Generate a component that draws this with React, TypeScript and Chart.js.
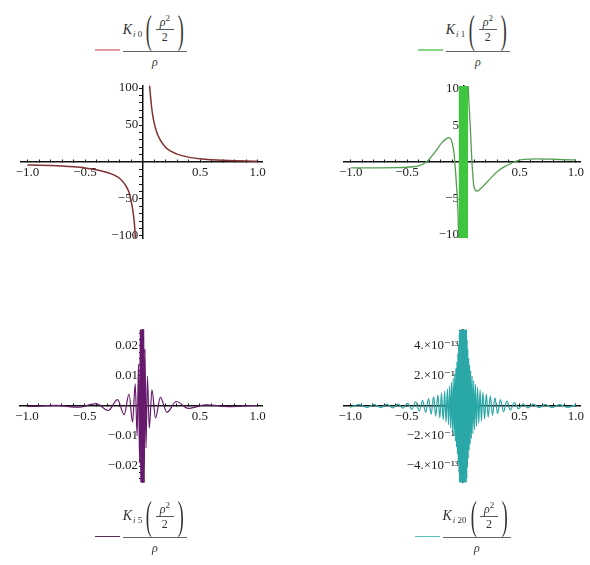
import React, { useEffect, useRef } from "react";
import { Chart, registerables } from "chart.js";

Chart.register(...registerables);

const SERIF = '"Liberation Serif", "DejaVu Serif", serif';
const GAP = "\u2004";

// ---------- shared x axis ----------
const xTickValues = [-1, -0.5, 0.5, 1];
const xTickLabels = ["\u22121.0", "\u22120.5", "0.5", "1.0"];

// ---------- legend orders ----------
const legendOrders = ["0", "1", "5", "20"];

// ---------- panel 1 : K_{i0}(rho^2/2)/rho ----------
const k0YTickValues = [-100, -50, 50, 100];
const k0YTickLabels = ["\u2212100", "\u221250", "50", "100"];
const k0Left: [number, number][] = [
  [-1.0, -4], [-0.9, -4.3], [-0.8, -4.8], [-0.7, -5.5], [-0.6, -6.5], [-0.5, -8],
  [-0.4, -10.5], [-0.3, -14.5], [-0.25, -17.5], [-0.2, -22], [-0.15, -31], [-0.12, -40],
  [-0.1, -52], [-0.09, -60], [-0.08, -70], [-0.07, -84], [-0.063, -100], [-0.06, -108],
];
const k0Right: [number, number][] = [
  [0.06, 108], [0.065, 97], [0.07, 88], [0.08, 73], [0.09, 62], [0.1, 54], [0.12, 42],
  [0.15, 31], [0.2, 20], [0.25, 14.3], [0.3, 10.7], [0.4, 6.6], [0.5, 4.4], [0.6, 3.1],
  [0.7, 2.2], [0.8, 1.6], [0.9, 1.2], [1.0, 0.9],
];

// ---------- panel 2 : K_{i1}(rho^2/2)/rho ----------
const k1YTickValues = [-10, -5, 5, 10];
const k1YTickLabels = ["\u221210", "\u22125", "5", "10"];
const k1Left: [number, number][] = [
  [-1.0, -0.8], [-0.8, -0.8], [-0.6, -0.78], [-0.5, -0.72], [-0.45, -0.65], [-0.39, -0.5],
  [-0.33, -0.05], [-0.28, 0.8], [-0.245, 1.5], [-0.19, 2.65], [-0.15, 3.2], [-0.13, 3.33],
  [-0.115, 3.2], [-0.104, 2.9], [-0.092, 2.1], [-0.081, 1.05], [-0.074, -0.3], [-0.067, -1.7],
  [-0.06, -3.3], [-0.053, -4.9], [-0.047, -7], [-0.043, -9], [-0.04, -11],
];
const k1BandX = [-0.042, 0.042];
const k1BandY = [11, -11];
const k1Right: [number, number][] = [
  [0.042, 11], [0.045, 9.8], [0.055, 6.8], [0.064, 4.2], [0.071, 1.8], [0.078, -0.3],
  [0.085, -1.8], [0.092, -3.1], [0.105, -3.8], [0.121, -4.0], [0.14, -3.85], [0.178, -3.3],
  [0.22, -2.6], [0.263, -1.9], [0.32, -1.1], [0.377, -0.55], [0.434, -0.1], [0.48, 0.15],
  [0.52, 0.32], [0.6, 0.4], [0.66, 0.42], [0.8, 0.38], [0.95, 0.3], [1.0, 0.28],
];

// ---------- panel 3 : K_{i5}(rho^2/2)/rho ----------
const k5YTickValues = [-0.02, -0.01, 0.01, 0.02];
const k5YTickLabels = ["\u22120.02", "\u22120.01", "0.01", "0.02"];
const k5Left: [number, number][] = [
  [-1.0, -0.0001], [-0.97, -0.0001], [-0.75, 0.0002], [-0.55, -0.0004], [-0.4, 0.0008],
  [-0.295, -0.0015], [-0.215, 0.0021], [-0.157, -0.0029], [-0.115, 0.004], [-0.084, -0.0054],
  [-0.061, 0.0074], [-0.0446, -0.01], [-0.0326, 0.014], [-0.0238, -0.019], [-0.0174, 0.026],
  [-0.0127, -0.03], [-0.0093, 0.03], [-0.0068, -0.03], [-0.005, 0.03], [-0.0037, -0.03],
  [-0.0027, 0.03], [-0.002, -0.03],
];
const k5Right: [number, number][] = [
  [0.002, 0.03], [0.0027, -0.03], [0.0037, 0.03], [0.005, -0.03], [0.0068, 0.03],
  [0.0093, -0.03], [0.0127, 0.03], [0.0174, -0.026], [0.0238, 0.019], [0.0326, -0.014],
  [0.0446, 0.01], [0.061, -0.0074], [0.084, 0.0054], [0.115, -0.004], [0.157, 0.0029],
  [0.215, -0.0021], [0.295, 0.0015], [0.4, -0.0008], [0.55, 0.0004], [0.75, -0.0002],
  [0.97, 0.0001], [1.0, 0.0001],
];

// ---------- panel 4 : K_{i20}(rho^2/2)/rho  (values in units of 1e-13) ----------
const k20YTickValues = [-4, -2, 2, 4];
const k20YTickLabels = [
  "\u22124.\u00d710\u207b\u00b9\u00b3",
  "\u22122.\u00d710\u207b\u00b9\u00b3",
  "2.\u00d710\u207b\u00b9\u00b3",
  "4.\u00d710\u207b\u00b9\u00b3",
];
const k20Right: [number, number][] = [
  [0.004, -6], [0.006, 6], [0.008, -6], [0.01, 6], [0.012, -6], [0.014, 6], [0.016, -6],
  [0.018, 6], [0.02, -6], [0.022, 6], [0.024, -6], [0.026, 6], [0.028, -5.7], [0.031, 5.2],
  [0.033, -4.85], [0.036, 4.45], [0.039, -4.1], [0.042, 3.8], [0.046, -3.5], [0.05, 3.2],
  [0.054, -2.95], [0.058, 2.75], [0.063, -2.55], [0.068, 2.35], [0.074, -2.17], [0.08, 2.0],
  [0.087, -1.85], [0.094, 1.7], [0.102, -1.57], [0.11, 1.45], [0.119, -1.35], [0.129, 1.25],
  [0.139, -1.15], [0.151, 1.07], [0.163, -1.0], [0.176, 0.93], [0.191, -0.87], [0.206, 0.8],
  [0.223, -0.74], [0.242, 0.68], [0.261, -0.62], [0.283, 0.55], [0.306, -0.5], [0.331, 0.43],
  [0.359, -0.38], [0.388, 0.33], [0.42, -0.27], [0.454, 0.22], [0.492, -0.18], [0.532, 0.15],
  [0.576, -0.13], [0.623, 0.12], [0.674, -0.11], [0.729, 0.1], [0.789, -0.1], [0.854, 0.09],
  [0.924, -0.09], [1.0, 0.08],
];
const k20Left: [number, number][] = [
  [-1.0, -0.08], [-0.924, 0.09], [-0.854, -0.09], [-0.789, 0.1], [-0.729, -0.1], [-0.674, 0.11],
  [-0.623, -0.12], [-0.576, 0.13], [-0.532, -0.15], [-0.492, 0.18], [-0.454, -0.22], [-0.42, 0.27],
  [-0.388, -0.33], [-0.359, 0.38], [-0.331, -0.43], [-0.306, 0.5], [-0.283, -0.55], [-0.261, 0.62],
  [-0.242, -0.68], [-0.223, 0.74], [-0.206, -0.8], [-0.191, 0.87], [-0.176, -0.93], [-0.163, 1.0],
  [-0.151, -1.07], [-0.139, 1.15], [-0.129, -1.25], [-0.119, 1.35], [-0.11, -1.45], [-0.102, 1.57],
  [-0.094, -1.7], [-0.087, 1.85], [-0.08, -2.0], [-0.074, 2.17], [-0.068, -2.35], [-0.063, 2.55],
  [-0.058, -2.75], [-0.054, 2.95], [-0.05, -3.2], [-0.046, 3.5], [-0.042, -3.8], [-0.039, 4.1],
  [-0.036, -4.45], [-0.033, 4.85], [-0.031, -5.2], [-0.028, 5.7], [-0.026, -6], [-0.024, 6],
  [-0.022, -6], [-0.02, 6], [-0.018, -6], [-0.016, 6], [-0.014, -6], [-0.012, 6], [-0.01, -6],
  [-0.008, 6], [-0.006, -6], [-0.004, 6],
];

// ---------- helpers ----------
const pts = (a: [number, number][]) => a.map(([x, y]) => ({ x, y }));

type Box = { left: number; top: number; width: number; height: number };
type Area = { left: number; top: number; right: number; bottom: number };
type PanelCfg = {
  box: Box;
  area: Area;
  xMin: number; xMax: number;
  yMin: number; yMax: number; yStep: number;
  yTickValues: number[]; yTickLabels: string[];
  datasets: any[];
};

function line(data: [number, number][], color: string, width: number) {
  return {
    data: pts(data),
    borderColor: color,
    borderWidth: width,
    pointRadius: 0,
    fill: false,
    cubicInterpolationMode: "monotone",
    clip: 0,
  };
}

function findLabel(v: number, vals: number[], labels: string[], tol: number) {
  const i = vals.findIndex((t) => Math.abs(t - v) < tol);
  return i >= 0 ? labels[i] : "";
}

function PanelChart({ cfg }: { cfg: PanelCfg }) {
  const ref = useRef<HTMLCanvasElement>(null);
  useEffect(() => {
    const c = ref.current;
    if (!c) return;
    const pad = {
      left: cfg.area.left - cfg.box.left,
      top: cfg.area.top - cfg.box.top,
      right: cfg.box.left + cfg.box.width - cfg.area.right,
      bottom: cfg.box.top + cfg.box.height - cfg.area.bottom,
    };
    const yTol = cfg.yStep / 100;
    const chart = new Chart(c, {
      type: "line",
      data: { datasets: cfg.datasets },
      options: {
        responsive: false,
        animation: false,
        devicePixelRatio: 1,
        events: [],
        layout: { padding: pad },
        plugins: { legend: { display: false }, tooltip: { enabled: false }, title: { display: false } },
        elements: { point: { radius: 0 } },
        scales: {
          x: {
            type: "linear",
            min: cfg.xMin,
            max: cfg.xMax,
            position: { y: 0 } as any,
            z: 1,
            afterFit: (s: any) => { s.height = 0; },
            border: { display: true, color: "#111", width: 1.5 },
            grid: { display: true, drawOnChartArea: false, drawTicks: true, tickLength: -3, color: "#111", lineWidth: 1 },
            ticks: {
              stepSize: 0.1,
              autoSkip: false,
              includeBounds: false,
              maxRotation: 0,
              padding: 6,
              color: "#222",
              font: { family: SERIF, size: 13 },
              callback: (v: any) => findLabel(Number(v), xTickValues, xTickLabels, 1e-6),
            },
          } as any,
          y: {
            type: "linear",
            min: cfg.yMin,
            max: cfg.yMax,
            position: { x: 0 } as any,
            z: 1,
            afterFit: (s: any) => { s.width = 0; },
            border: { display: true, color: "#111", width: 1.5 },
            grid: { display: true, drawOnChartArea: false, drawTicks: true, tickLength: 3, color: "#111", lineWidth: 1 },
            ticks: {
              stepSize: cfg.yStep,
              autoSkip: false,
              includeBounds: false,
              padding: 1,
              color: "#222",
              font: { family: SERIF, size: 13 },
              callback: (v: any) => {
                const s = findLabel(Number(v), cfg.yTickValues, cfg.yTickLabels, yTol);
                return s ? s + GAP : "";
              },
            },
          } as any,
        },
      },
    });
    return () => chart.destroy();
  }, []);
  return (
    <canvas
      ref={ref}
      width={cfg.box.width}
      height={cfg.box.height}
      style={{ position: "absolute", left: cfg.box.left, top: cfg.box.top, width: cfg.box.width, height: cfg.box.height }}
    />
  );
}

function Legend({ left, barY, color, order, barW }: { left: number; barY: number; color: string; order: string; barW: number }) {
  const numLeft = left + 28;
  return (
    <>
      <div style={{ position: "absolute", left, top: barY - 1.5, width: 25, height: 1.5, background: color }} />
      <div style={{ position: "absolute", left: numLeft, top: barY, width: barW, height: 1, background: "#666" }} />
      <div
        style={{
          position: "absolute", left: numLeft, top: barY - 40, width: barW, height: 38,
          display: "flex", alignItems: "center", justifyContent: "center",
          fontFamily: SERIF, color: "#333", whiteSpace: "nowrap",
        }}
      >
        <span style={{ fontStyle: "italic", fontSize: 14 }}>K</span>
        <span style={{ fontSize: 9, marginTop: 8, marginLeft: 1 }}><i>i</i>&nbsp;{order}</span>
        <span style={{ fontSize: 40, lineHeight: "36px", display: "inline-block", transform: "scaleX(0.45)", fontWeight: 300 }}>(</span>
        <span style={{ display: "inline-flex", flexDirection: "column", alignItems: "center", fontSize: 12, lineHeight: "12px" }}>
          <span style={{ padding: "0 4px" }}>
            <i>ρ</i>
            <span style={{ fontSize: 9, position: "relative", top: -5 }}>2</span>
          </span>
          <span style={{ borderTop: "1px solid #555", alignSelf: "stretch", textAlign: "center", paddingTop: 1 }}>2</span>
        </span>
        <span style={{ fontSize: 40, lineHeight: "36px", display: "inline-block", transform: "scaleX(0.45)", fontWeight: 300 }}>)</span>
      </div>
      <div
        style={{
          position: "absolute", left: numLeft, top: barY + 5, width: barW, textAlign: "center",
          fontStyle: "italic", fontSize: 12, fontFamily: SERIF, color: "#333", lineHeight: "13px",
        }}
      >
        ρ
      </div>
    </>
  );
}

const C1 = "#823030";
const C2 = "#4f9f4f";
const C3 = "#661a6c";
const C4 = "#2aa7a7";

const panels: PanelCfg[] = [
  {
    box: { left: 0, top: 70, width: 295, height: 190 },
    area: { left: 20.6, top: 85.8, right: 262.7, bottom: 238.2 },
    xMin: -1.06, xMax: 1.045, yMin: -103, yMax: 103, yStep: 10,
    yTickValues: k0YTickValues, yTickLabels: k0YTickLabels,
    datasets: [line(k0Left, C1, 1.5), line(k0Right, C1, 1.5)],
  },
  {
    box: { left: 295, top: 70, width: 295, height: 190 },
    area: { left: 344, top: 86.1, right: 588.2, bottom: 237.9 },
    xMin: -1.06, xMax: 1.045, yMin: -10.4, yMax: 10.4, yStep: 1,
    yTickValues: k1YTickValues, yTickLabels: k1YTickLabels,
    datasets: [
      line(k1Left, C2, 1.3),
      line(k1Right, C2, 1.3),
      {
        data: [{ x: k1BandX[0], y: k1BandY[0] }, { x: k1BandX[1], y: k1BandY[0] }],
        borderWidth: 0,
        borderColor: "rgba(0,0,0,0)",
        backgroundColor: "#3fc63f",
        pointRadius: 0,
        fill: { value: k1BandY[1] },
        clip: 0,
      },
    ],
  },
  {
    box: { left: 0, top: 315, width: 295, height: 190 },
    area: { left: 20.1, top: 329.5, right: 262.7, bottom: 482.5 },
    xMin: -1.06, xMax: 1.045, yMin: -0.0255, yMax: 0.0255, yStep: 0.002,
    yTickValues: k5YTickValues, yTickLabels: k5YTickLabels,
    datasets: [line(k5Left, C3, 1.2), line(k5Right, C3, 1.2)],
  },
  {
    box: { left: 295, top: 315, width: 295, height: 190 },
    area: { left: 343.5, top: 329.5, right: 588.3, bottom: 482.5 },
    xMin: -1.06, xMax: 1.045, yMin: -5.1, yMax: 5.1, yStep: 0.5,
    yTickValues: k20YTickValues, yTickLabels: k20YTickLabels,
    datasets: [line(k20Left, C4, 1.2), line(k20Right, C4, 1.2)],
  },
];

export default function App() {
  return (
    <div style={{ position: "fixed", left: 0, top: 0, width: 590, height: 565, background: "#fff", overflow: "hidden" }}>
      {panels.map((p, i) => (
        <PanelChart key={i} cfg={p} />
      ))}
      <Legend left={95} barY={50.5} color="#e39a9a" order={legendOrders[0]} barW={64} />
      <Legend left={418} barY={50.5} color="#86d486" order={legendOrders[1]} barW={64} />
      <Legend left={95} barY={537} color="#5a2a5e" order={legendOrders[2]} barW={64} />
      <Legend left={415} barY={537} color="#5fc2c2" order={legendOrders[3]} barW={68} />
    </div>
  );
}
